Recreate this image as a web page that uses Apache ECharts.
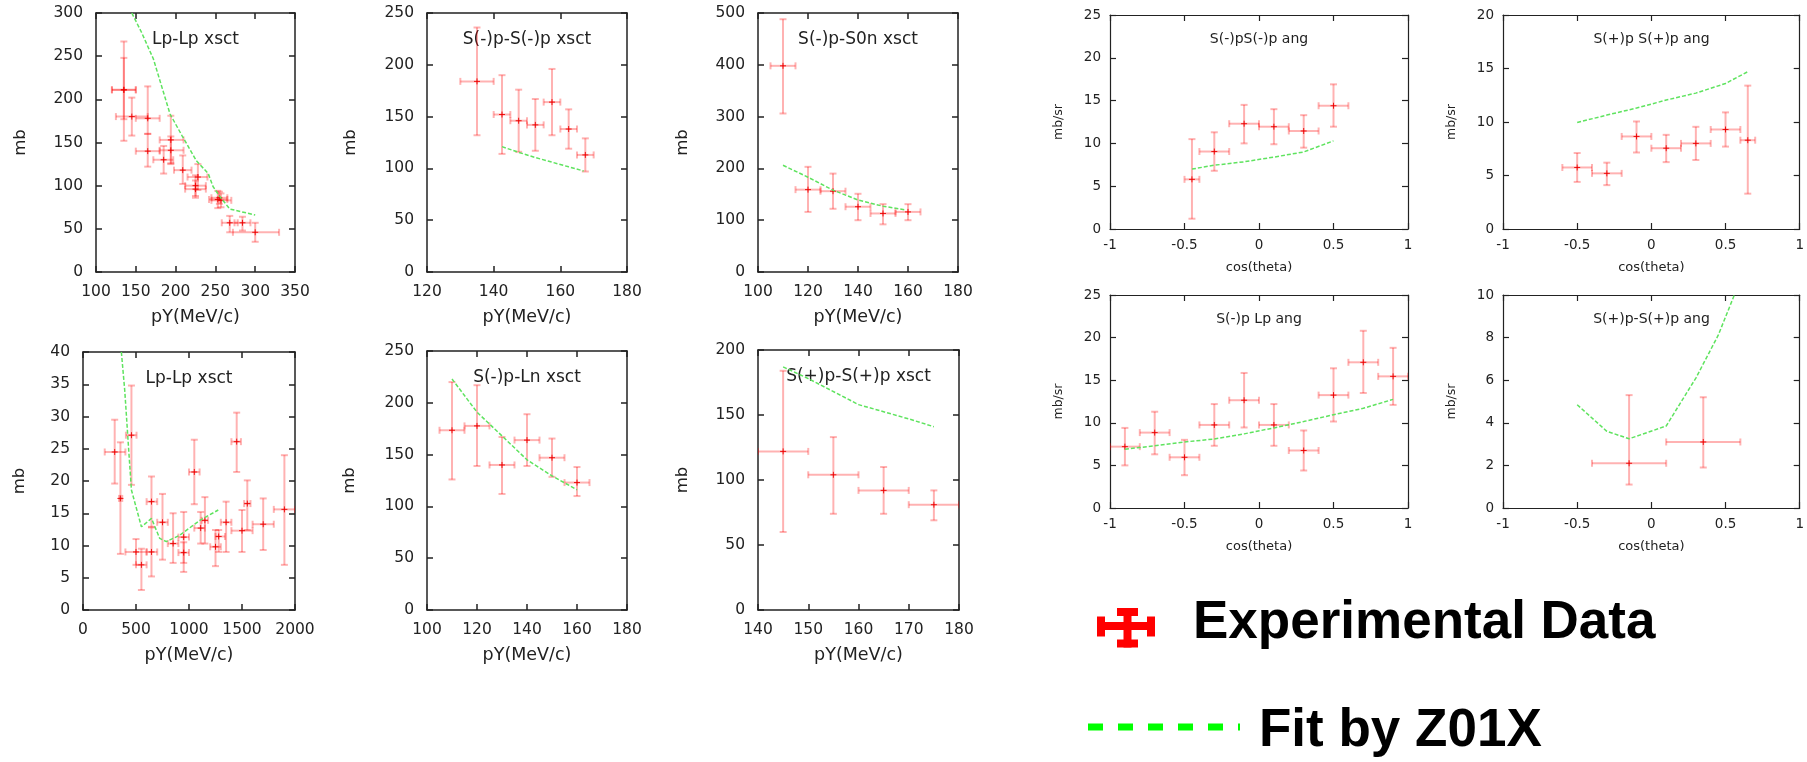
<!DOCTYPE html>
<html><head><meta charset="utf-8">
<script src="https://cdn.jsdelivr.net/npm/echarts@6/dist/echarts.min.js"></script>
<style>html,body{margin:0;padding:0;background:#fff}#c{width:1807px;height:762px}</style>
</head><body><div id="c"></div>
<script>
// ---------- DATA: experimental rows are [x, xLow, xHigh, y, yLow, yHigh]; fit rows are [x, y] ----------
const lpLpXsctExp = [
  [135,120,150,211,152,267],[135,120,150,211,177,248],[145,125,165,180,158,202],
  [165,150,180,178,160,215],[165,150,180,140,122,160],[185,172,197,130,114,146],
  [194,180,210,153,125,181],[194,180,210,141,126,157],[209,198,220,118,102,135],
  [225,212,238,100,88,112],[228,215,240,110,95,125],[225,212,238,96,86,106],
  [253,242,265,84,74,94],[257,245,270,83,75,91],[255,245,265,86,79,93],
  [268,258,278,57,46,65],[284,274,294,57,48,64],[300,272,330,46,35,57]
];
const lpLpXsctFit = [[145,300],[157,278],[172,247],[193,183],[208,158],[226,129],[241,114],[247,99],[256,87],[268,73],[300,66]];

const smpSmpXsctExp = [
  [135,130,140,184,132,236],[142.5,140,145,152,114,190],[147.5,145,150,146,116,176],
  [152.5,150,155,142,117,167],[157.5,155,160,164,132,196],[162.5,160,165,138,119,157],
  [167.5,165,170,113,97,129]
];
const smpSmpXsctFit = [[142.5,121],[147.5,115.5],[152.5,110.5],[157.5,106],[162.5,101.5],[167,97.5]];

const smpS0nXsctExp = [
  [110,105,115,398,306,488],[120,115,125,159,116,203],[130,125,135,156,122,190],
  [140,135,145,126,100,151],[150,145,155,113,92,131],[160,155,165,116,100,131]
];
const smpS0nXsctFit = [[110,206],[120,183],[130,158],[140,139],[150,127],[159,120]];

const lpLpXsct2Exp = [
  [299,205,400,24.5,19.6,29.5],[353,340,370,17.3,8.7,26],[457,405,505,27.1,19.4,34.8],
  [500,400,600,9.0,7.0,11.0],[551,500,600,7.0,3.1,9.5],[646,600,700,16.8,12.9,20.7],
  [646,600,700,9.0,5.2,12.8],[750,700,800,13.6,7.8,18.0],[850,800,900,10.3,7.3,15.0],
  [950,900,1000,11.3,5.9,15.2],[950,900,1000,8.9,7.3,10.5],[1050,1000,1100,21.4,16.4,26.4],
  [1110,1050,1150,12.7,10.3,15.2],[1150,1120,1180,13.9,10.3,17.5],[1250,1200,1300,9.8,6.8,12.4],
  [1280,1250,1340,11.4,9.0,12.4],[1350,1300,1400,13.6,9.0,16.8],[1450,1400,1490,26.1,21.4,30.6],
  [1500,1400,1600,12.3,9.0,15.5],[1550,1520,1580,16.5,12.4,20.1],[1700,1600,1800,13.3,9.3,17.3],
  [1900,1800,2000,15.6,7.0,24.0]
];
const lpLpXsct2Fit = [[362,40],[394,34],[425,26.3],[457,18.6],[551,12.9],[646,14.2],[724,11.1],[787,10.6],[913,11.6],[1102,13.9],[1276,15.5]];

const smpLnXsctExp = [
  [110,105,115,173.5,126,220],[120,115,125,177.7,139,217],[130,125,135,140,112,167],
  [140,135,145,164,139,189],[150,145,155,147,128.5,165.5],[160,155,165,123,110,138]
];
const smpLnXsctFit = [[110,223],[120,191],[130,168],[140,145],[150,129.5],[160,116]];

const sppSppXsctExp = [
  [145,140,150,122,60,184],[155,150,160,104,74,133],[165,160,170,92,74,110],[175,170,180,81,69,92]
];
const sppSppXsctFit = [[145,187],[150,178],[160,158],[170,147],[175,141]];

const smpSmpAngExp = [
  [-0.45,-0.5,-0.4,5.8,1.2,10.5],[-0.3,-0.4,-0.2,9.05,6.8,11.3],[-0.1,-0.2,0,12.3,10,14.5],
  [0.1,0,0.2,11.95,9.9,14],[0.3,0.2,0.4,11.45,9.5,13.3],[0.5,0.4,0.6,14.4,11.95,16.9]
];
const smpSmpAngFit = [[-0.45,7.0],[-0.3,7.45],[-0.1,7.85],[0.1,8.4],[0.3,9.0],[0.5,10.3]];

const sppSppAngExp = [
  [-0.5,-0.6,-0.4,5.75,4.4,7.1],[-0.3,-0.4,-0.2,5.2,4.1,6.2],[-0.1,-0.2,0,8.65,7.15,10.05],
  [0.1,0,0.2,7.55,6.25,8.8],[0.3,0.2,0.4,8.0,6.45,9.55],[0.5,0.4,0.6,9.3,7.7,10.9],
  [0.65,0.6,0.7,8.3,3.3,13.4]
];
const sppSppAngFit = [[-0.5,9.95],[-0.3,10.65],[-0.1,11.3],[0.1,12.05],[0.3,12.7],[0.5,13.6],[0.65,14.7]];

const smpLpAngExp = [
  [-0.9,-1,-0.8,7.2,5.0,9.4],[-0.7,-0.8,-0.6,8.85,6.3,11.3],[-0.5,-0.6,-0.4,5.95,3.85,8.0],
  [-0.3,-0.4,-0.2,9.75,7.3,12.2],[-0.1,-0.2,0,12.65,9.45,15.85],[0.1,0,0.2,9.75,7.3,12.2],
  [0.3,0.2,0.4,6.75,4.4,9.1],[0.5,0.4,0.6,13.25,10.15,16.4],[0.7,0.6,0.8,17.1,13.5,20.8],
  [0.9,0.8,1.0,15.45,12.1,18.8]
];
const smpLpAngFit = [[-0.9,6.9],[-0.7,7.3],[-0.5,7.75],[-0.3,8.1],[-0.1,8.7],[0.1,9.4],[0.3,10.15],[0.5,10.95],[0.7,11.7],[0.9,12.75]];

const sppSppAng2Exp = [[-0.15,-0.4,0.1,2.1,1.1,5.3],[0.35,0.1,0.6,3.1,1.9,5.2]];
const sppSppAng2Fit = [[-0.5,4.85],[-0.3,3.6],[-0.15,3.25],[0.1,3.85],[0.3,6.1],[0.45,8.1],[0.6,10.7]];

const titles = ['Lp-Lp xsct','S(-)p-S(-)p xsct','S(-)p-S0n xsct','Lp-Lp xsct','S(-)p-Ln xsct','S(+)p-S(+)p xsct',
                'S(-)pS(-)p ang','S(+)p S(+)p ang','S(-)p Lp ang','S(+)p-S(+)p ang'];
const xRanges = [[100,350,50],[120,180,20],[100,180,20],[0,2000,500],[100,180,20],[140,180,10],
                 [-1,1,0.5],[-1,1,0.5],[-1,1,0.5],[-1,1,0.5]];
const yRanges = [[0,300,50],[0,250,50],[0,500,100],[0,40,5],[0,250,50],[0,200,50],
                 [0,25,5],[0,20,5],[0,25,5],[0,10,2]];
const legendLabels = ['Experimental Data','Fit by Z01X'];

// ---------- LAYOUT ----------
const expSets = [lpLpXsctExp,smpSmpXsctExp,smpS0nXsctExp,lpLpXsct2Exp,smpLnXsctExp,sppSppXsctExp,smpSmpAngExp,sppSppAngExp,smpLpAngExp,sppSppAng2Exp];
const fitSets = [lpLpXsctFit,smpSmpXsctFit,smpS0nXsctFit,lpLpXsct2Fit,smpLnXsctFit,sppSppXsctFit,smpSmpAngFit,sppSppAngFit,smpLpAngFit,sppSppAng2Fit];
const boxes = [
  {left:96,top:13,width:199,height:259,yGap:67},{left:427,top:13,width:200,height:259,yGap:68},{left:758,top:13,width:200,height:259,yGap:67},
  {left:83,top:352,width:212,height:258,yGap:55},{left:427,top:351,width:200,height:259,yGap:69},{left:758,top:350,width:201,height:260,yGap:67},
  {left:1110,top:15,width:298,height:214,yGap:45},{left:1503,top:15,width:297,height:214,yGap:45},
  {left:1110,top:295,width:298,height:213,yGap:45},{left:1503,top:295,width:297,height:213,yGap:45}
];
const FONT = 'DejaVu Sans';
const INK = '#222';

function renderErr(params, api) {
  const x = api.value(0), xl = api.value(1), xh = api.value(2);
  const y = api.value(3), yl = api.value(4), yh = api.value(5);
  const c = api.coord([x, y]), l = api.coord([xl, y]), r = api.coord([xh, y]);
  const t = api.coord([x, yh]), b = api.coord([x, yl]);
  const cap = 3.5, s = {stroke:'rgba(255,0,0,0.3)', lineWidth:2};
  const cs = {stroke:'rgba(235,0,0,0.9)', lineWidth:1};
  const ln = (x1,y1,x2,y2,st) => ({type:'line', shape:{x1,y1,x2,y2}, style:st});
  return {type:'group', children:[
    ln(l[0],c[1],r[0],c[1],s), ln(l[0],c[1]-cap,l[0],c[1]+cap,s), ln(r[0],c[1]-cap,r[0],c[1]+cap,s),
    ln(c[0],t[1],c[0],b[1],s), ln(c[0]-cap,t[1],c[0]+cap,t[1],s), ln(c[0]-cap,b[1],c[0]+cap,b[1],s),
    ln(c[0]-3,c[1],c[0]+3,c[1],cs), ln(c[0],c[1]-3,c[0],c[1]+3,cs)
  ]};
}

const plain = v => String(v);
const grid = [], xAxis = [], yAxis = [], series = [], graphic = [];
boxes.forEach((bx, i) => {
  const right = i >= 6;
  const lab = right ? 13.5 : 15.5;
  const aw = right ? 1.2 : 1.5;
  grid.push({left:bx.left, top:bx.top, width:bx.width, height:bx.height});
  const axLine = {show:true, onZero:false, lineStyle:{color:INK, width:aw}};
  const tick = {show:true, inside:true, length:6, lineStyle:{color:INK, width:aw}};
  const [xmin,xmax,xint] = xRanges[i], [ymin,ymax,yint] = yRanges[i];
  xAxis.push({type:'value', gridIndex:i, position:'bottom', min:xmin, max:xmax, interval:xint,
    axisLine:axLine, axisTick:tick, splitLine:{show:false},
    axisLabel:{color:INK, fontFamily:FONT, fontSize:lab, margin:right?9:12, formatter:plain},
    name: right ? 'cos(theta)' : 'pY(MeV/c)', nameLocation:'middle', nameGap: right?32:36,
    nameTextStyle:{color:INK, fontFamily:FONT, fontSize: right?13:17.5}});
  xAxis.push({type:'value', gridIndex:i, position:'top', min:xmin, max:xmax, interval:xint,
    axisLine:axLine, axisTick:tick, splitLine:{show:false}, axisLabel:{show:false}});
  yAxis.push({type:'value', gridIndex:i, position:'left', min:ymin, max:ymax, interval:yint,
    axisLine:axLine, axisTick:tick, splitLine:{show:false},
    axisLabel:{color:INK, fontFamily:FONT, fontSize:lab, margin:right?9:13, formatter:plain},
    name: right ? 'mb/sr' : 'mb', nameLocation:'middle', nameGap:bx.yGap,
    nameTextStyle:{color:INK, fontFamily:FONT, fontSize: right?12.5:16.5}});
  yAxis.push({type:'value', gridIndex:i, position:'right', min:ymin, max:ymax, interval:yint,
    axisLine:axLine, axisTick:tick, splitLine:{show:false}, axisLabel:{show:false}});
  series.push({type:'custom', xAxisIndex:2*i, yAxisIndex:2*i, renderItem:renderErr, clip:true,
    encode:{x:[0,1,2], y:[3,4,5]}, data:expSets[i], z:2});
  series.push({type:'line', xAxisIndex:2*i, yAxisIndex:2*i, data:fitSets[i], showSymbol:false, symbol:'none',
    clip:true, lineStyle:{color:'#5fe35f', width:1.5, type:[4,2]}, z:3});
  graphic.push({type:'text', x:bx.left + bx.width/2, y:bx.top + (right?24:27),
    style:{text:titles[i], fill:INK, font:(right?'14px ':'17px ') + '"DejaVu Sans"', align:'center', verticalAlign:'middle'}});
});

// legend (drawn)
const red = '#ff0000';
const rect = (x,y,w,h,f) => ({type:'rect', shape:{x,y,width:w,height:h}, style:{fill:f}});
graphic.push(
  rect(1097,622,58,8,red), rect(1123.5,608,8,39.5,red),
  rect(1097,616.5,8,20,red), rect(1147,616.5,8,20,red),
  rect(1117,608,21,8,red), rect(1117,639.5,21,8,red),
  {type:'text', x:1193, y:623, style:{text:legendLabels[0], fill:'#000', font:'bold 53px "Liberation Sans"', align:'left', verticalAlign:'middle'}},
  {type:'line', shape:{x1:1088,y1:727,x2:1240,y2:727}, style:{stroke:'#00ff00', lineWidth:7, lineDash:[15,15]}},
  {type:'text', x:1259, y:731, style:{text:legendLabels[1], fill:'#000', font:'bold 53px "Liberation Sans"', align:'left', verticalAlign:'middle'}}
);

const chart = echarts.init(document.getElementById('c'));
chart.setOption({animation:false, backgroundColor:'#fff', grid, xAxis, yAxis, series, graphic});
</script></body></html>
